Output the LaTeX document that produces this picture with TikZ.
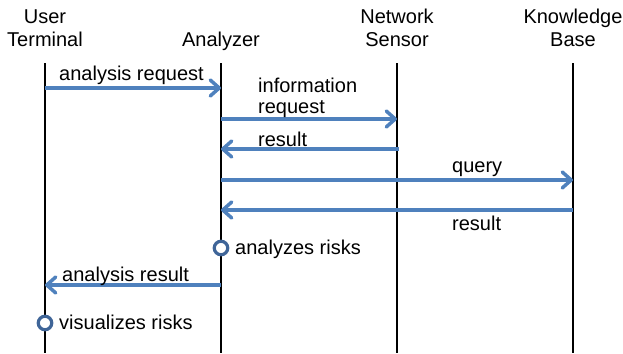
\documentclass[tikz,border=0pt]{standalone}
\usepackage{fontspec}
\setmainfont{Liberation Sans}
\usetikzlibrary{arrows.meta}
\definecolor{msgblue}{HTML}{4F81BD}
\definecolor{circblue}{HTML}{3F6598}
\begin{document}
\begin{tikzpicture}[x=1pt,y=-1pt,
  every node/.style={font=\fontsize{20}{23}\selectfont, inner sep=0pt, text=black},
  lifeline/.style={draw=black, line width=2pt},
  msg/.style={draw=msgblue, line width=3.5pt, -{Straight Barb[length=9pt,width=16pt,line cap=round,line join=round]}},
  act/.style={circle, draw=circblue, fill=white, line width=3.2pt, minimum size=13.5pt, inner sep=0pt},
  head/.style={align=center, anchor=center}]
\useasboundingbox (0,0) rectangle (623,353);
% heads
\node[head] (ut) at (45,28) {User\\Terminal};
\node[anchor=base] (an) at (221,47) {Analyzer};
\node[head] (ns) at (397,28) {Network\\Sensor};
\node[head] (kb) at (573,28) {Knowledge\\Base};
% lifelines
\coordinate (utT) at (45,63);  \coordinate (utB) at (45,353);
\coordinate (anT) at (221,63); \coordinate (anB) at (221,353);
\coordinate (nsT) at (397,63); \coordinate (nsB) at (397,353);
\coordinate (kbT) at (573,63); \coordinate (kbB) at (573,353);
\draw[lifeline] (utT) -- (utB);
\draw[lifeline] (anT) -- (anB);
\draw[lifeline] (nsT) -- (nsB);
\draw[lifeline] (kbT) -- (kbB);
% message points
\coordinate (m1a) at (45,88);   \coordinate (m1b) at (221,88);
\coordinate (m2a) at (221,119); \coordinate (m2b) at (397,119);
\coordinate (m3a) at (399,149); \coordinate (m3b) at (221,149);
\coordinate (m4a) at (221,180); \coordinate (m4b) at (573,180);
\coordinate (m5a) at (573,210); \coordinate (m5b) at (221,210);
\coordinate (m7a) at (221,285); \coordinate (m7b) at (45,285);
\draw[msg] (m1a) -- (m1b);
\draw[msg] (m2a) -- (m2b);
\draw[msg] (m3a) -- (m3b);
\draw[msg] (m4a) -- (m4b);
\draw[msg] (m5a) -- (m5b);
\draw[msg] (m7a) -- (m7b);
% labels
\node[anchor=base west] (l1) at (59,81) {analysis request};
\node[anchor=base west] (l2a) at (258,92) {information};
\node[anchor=base west] (l2b) at (258,113) {request};
\node[anchor=base west] (l3) at (258,146) {result};
\node[anchor=base west] (l4) at (452,172) {query};
\node[anchor=base west] (l5) at (452,230) {result};
\node[anchor=base west] (l7) at (62,281) {analysis result};
% activities
\node[act] (c1) at (221,248) {};
\node[anchor=base west] (t1) at (235,254) {analyzes risks};
\node[act] (c2) at (45,323) {};
\node[anchor=base west] (t2) at (59,329) {visualizes risks};
\end{tikzpicture}
\end{document}
